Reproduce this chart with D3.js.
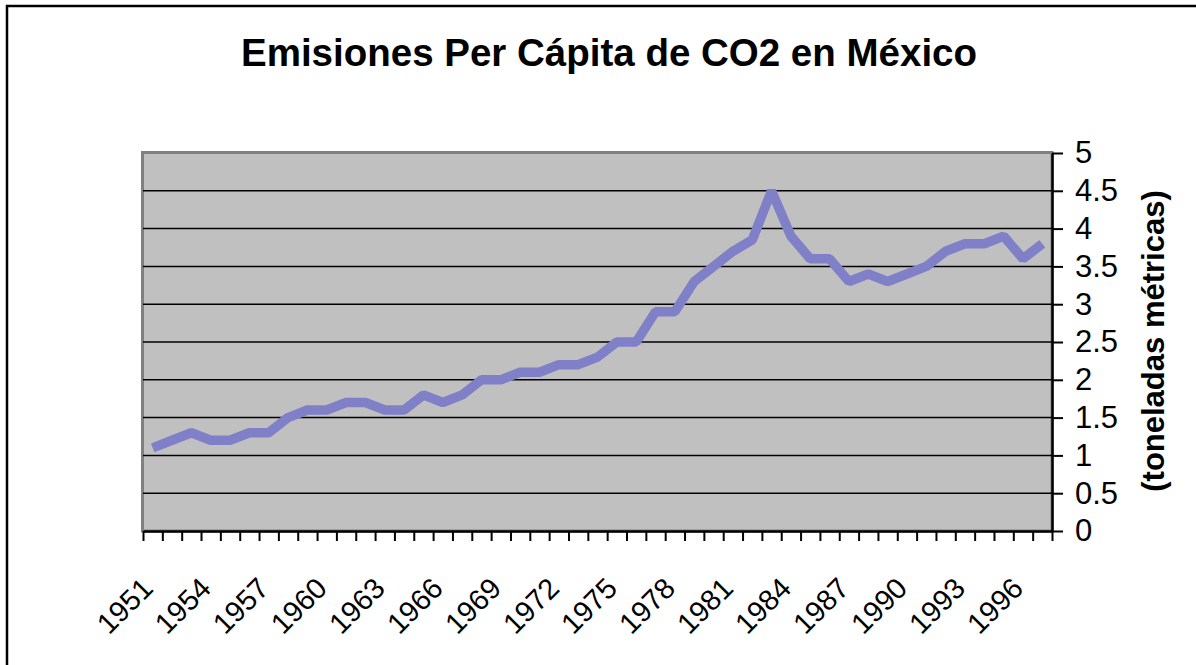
<!DOCTYPE html>
<html>
<head>
<meta charset="utf-8">
<script src="https://cdn.jsdelivr.net/npm/d3@7"></script>
<style>
  body { margin: 0; background: #fff; }
  svg text { font-family: "Liberation Sans", Arial, sans-serif; }
</style>
</head>
<body>
<script>
"use strict";
(function(){
    // Years on the category axis
    const years = [1951, 1952, 1953, 1954, 1955, 1956, 1957, 1958, 1959, 1960,
        1961, 1962, 1963, 1964, 1965, 1966, 1967, 1968, 1969, 1970,
        1971, 1972, 1973, 1974, 1975, 1976, 1977, 1978, 1979, 1980,
        1981, 1982, 1983, 1984, 1985, 1986, 1987, 1988, 1989, 1990,
        1991, 1992, 1993, 1994, 1995, 1996, 1997]

    // CO2 per capita (metric tons)
    const emissions = [1.1, 1.2, 1.3, 1.2, 1.2, 1.3, 1.3, 1.5, 1.6, 1.6,
        1.7, 1.7, 1.6, 1.6, 1.8, 1.7, 1.8, 2.0, 2.0, 2.1,
        2.1, 2.2, 2.2, 2.3, 2.5, 2.5, 2.9, 2.9, 3.3, 3.5,
        3.7, 3.85, 4.5, 3.9, 3.6, 3.6, 3.3, 3.4, 3.3, 3.4,
        3.5, 3.7, 3.8, 3.8, 3.9, 3.6, 3.8]

    // Tick labels
    const yTicks = [0, 0.5, 1, 1.5, 2, 2.5, 3, 3.5, 4, 4.5, 5]
    const yearLabels = [1951, 1954, 1957, 1960, 1963, 1966, 1969, 1972, 1975,
        1978, 1981, 1984, 1987, 1990, 1993, 1996]

    const titleText = "Emisiones Per Cápita de CO2 en México"
    const yTitleText = "(toneladas métricas)"

    // Plot area box
    const plot = { left: 143, right: 1052, top: 153, bottom: 531 }

    const svg = d3.select("body").append("svg")
        .attr("width", 1196)
        .attr("height", 665)

    // Outer chart border
    svg.append("rect")
        .attr("x", 7).attr("y", 6)
        .attr("width", 1220).attr("height", 700)
        .attr("fill", "#fff")
        .attr("stroke", "#000")
        .attr("stroke-width", 2.5)

    // Title
    svg.append("text")
        .attr("x", 609)
        .attr("y", 66)
        .attr("text-anchor", "middle")
        .attr("font-size", 38.5)
        .attr("font-weight", "bold")
        .text(titleText)

    // Scales
    const x = d3.scaleBand()
        .domain(years)
        .range([plot.left, plot.right])
    const xTick = d3.scaleLinear()
        .domain([0, years.length])
        .range([plot.left, plot.right])
    const y = d3.scaleLinear()
        .domain([0, 5])
        .range([plot.bottom, plot.top])

    // Plot area background
    svg.append("rect")
        .attr("x", plot.left - 0.5)
        .attr("y", plot.top - 0.5)
        .attr("width", plot.right - plot.left + 0.5)
        .attr("height", plot.bottom - plot.top + 0.5)
        .attr("fill", "#c0c0c0")
        .attr("stroke", "#808080")
        .attr("stroke-width", 3)

    // Gridlines
    svg.append("g")
        .selectAll("line")
        .data(yTicks.filter(d => d > 0 && d < 5))
        .enter()
        .append("line")
            .attr("x1", plot.left)
            .attr("x2", plot.right)
            .attr("y1", d => y(d))
            .attr("y2", d => y(d))
            .attr("stroke", "#000")
            .attr("stroke-width", 1.5)

    // Bottom axis: tick marks between categories
    const xAxis = d3.axisBottom(xTick)
        .tickValues(d3.range(years.length + 1))
        .tickFormat("")
        .tickSize(10)
        .tickSizeOuter(0)
    const gx = svg.append("g")
        .attr("transform", `translate(0,${plot.bottom})`)
        .call(xAxis)
    gx.select(".domain").attr("stroke", "#000").attr("stroke-width", 2.5)
    gx.selectAll(".tick line").attr("stroke", "#000").attr("stroke-width", 2)

    // Year labels, rotated
    svg.append("g")
        .selectAll("text")
        .data(yearLabels)
        .enter()
        .append("text")
            .attr("transform", d => `translate(${x(d) + x.bandwidth() / 2 + 2},590) rotate(-45)`)
            .attr("text-anchor", "end")
            .attr("font-size", 29)
            .text(d => d)

    // Right axis
    const yAxis = d3.axisRight(y)
        .tickValues(yTicks)
        .tickFormat(d => String(d))
        .tickSize(11)
        .tickSizeOuter(0)
        .tickPadding(12)
    const gy = svg.append("g")
        .attr("transform", `translate(${plot.right},0)`)
        .call(yAxis)
    gy.select(".domain").attr("stroke", "#000").attr("stroke-width", 2.5)
    gy.selectAll(".tick line").attr("stroke", "#000").attr("stroke-width", 2)
    gy.selectAll(".tick text")
        .attr("font-size", 31)
        .attr("font-family", "'Liberation Sans', Arial, sans-serif")
        .attr("fill", "#000")

    // Axis title
    svg.append("text")
        .attr("transform", "translate(1164,341) rotate(-90)")
        .attr("text-anchor", "middle")
        .attr("font-size", 31)
        .attr("font-weight", "bold")
        .text(yTitleText)

    // Data line
    const line = d3.line()
        .x((d, i) => x(years[i]) + x.bandwidth() / 2)
        .y(d => y(d))
    svg.append("path")
        .datum(emissions)
        .attr("d", line)
        .attr("fill", "none")
        .attr("stroke", "#8080c8")
        .attr("stroke-width", 9.5)
        .attr("stroke-linejoin", "bevel")
})()
</script>
</body>
</html>
